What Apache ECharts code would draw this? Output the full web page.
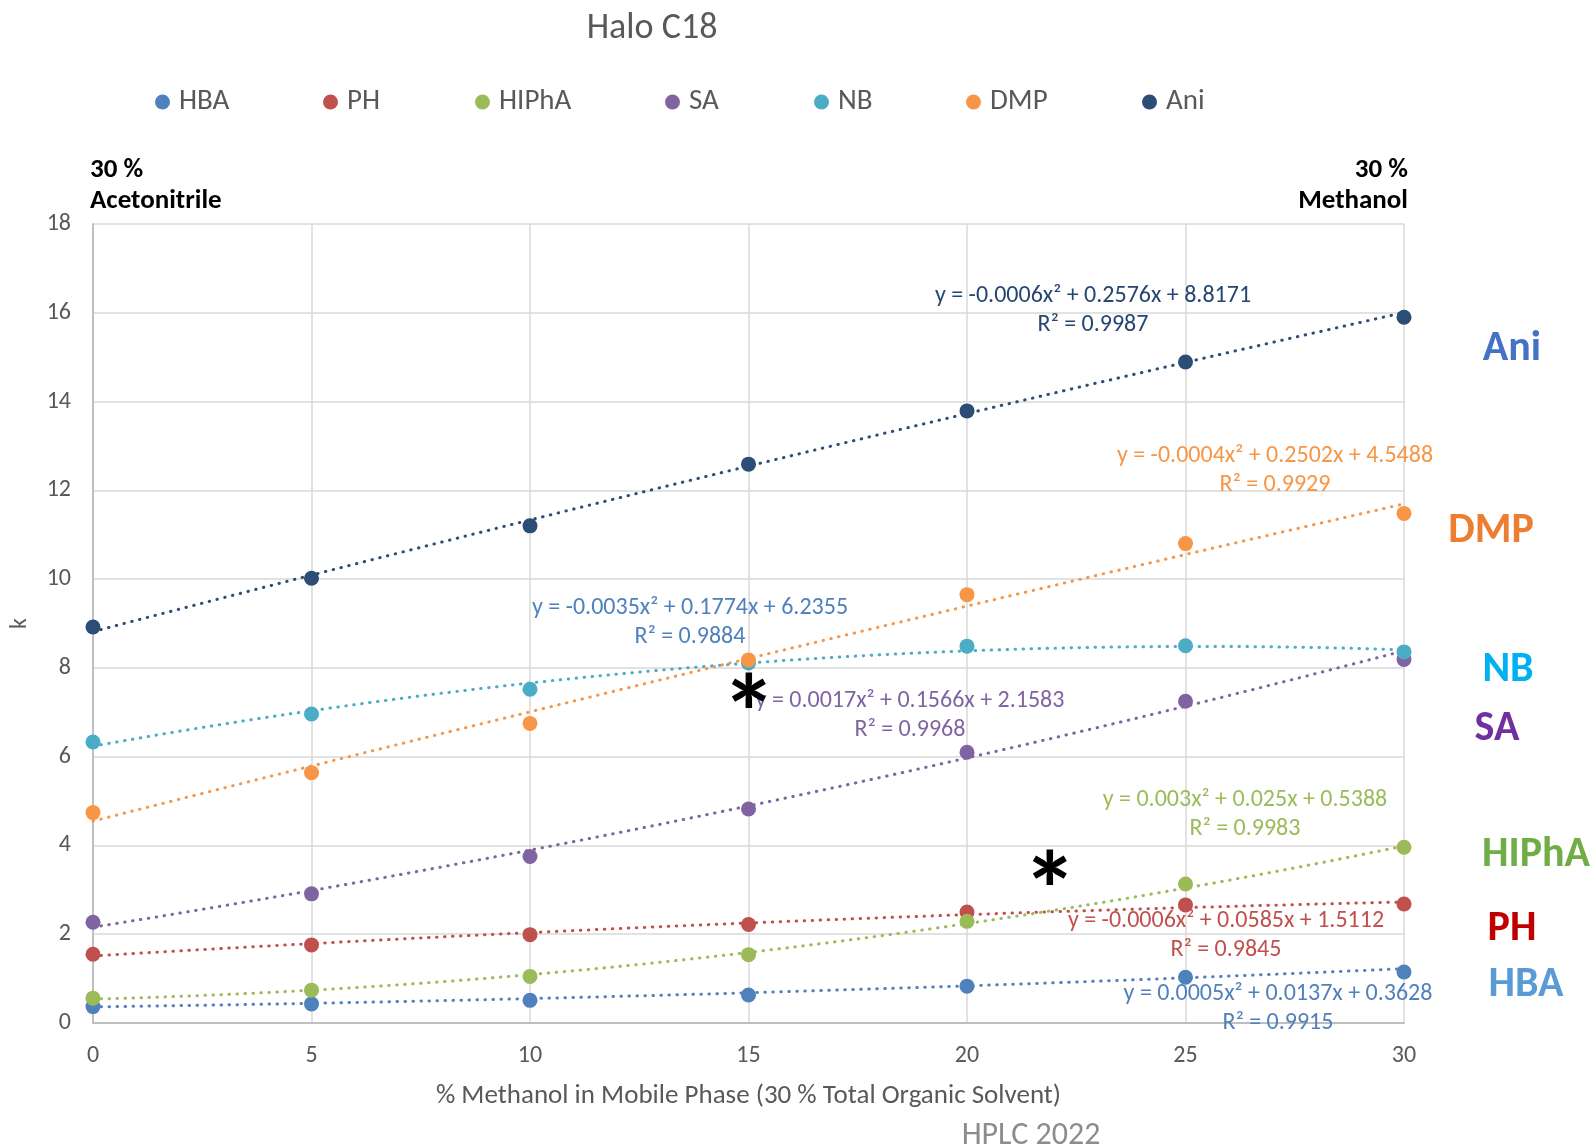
<!DOCTYPE html>
<html>
<head>
<meta charset="utf-8">
<title>Halo C18</title>
<script src="https://cdn.jsdelivr.net/npm/echarts@6/dist/echarts.min.js"></script>
<style>
  html, body { margin: 0; padding: 0; background: #ffffff; }
  #chart { width: 1595px; height: 1146px; }
</style>
</head>
<body>
<div id="chart"></div>
<script>
// % methanol in the 30 % organic mobile phase
const methanolPct = [0, 5, 10, 15, 20, 25, 30];
const yTicks = [0, 2, 4, 6, 8, 10, 12, 14, 16, 18];

// retention factor k per analyte
const kHBA   = [0.37, 0.43, 0.51, 0.63, 0.83, 1.03, 1.15];
const kPH    = [1.55, 1.76, 1.99, 2.22, 2.50, 2.66, 2.68];
const kHIPhA = [0.56, 0.74, 1.05, 1.54, 2.29, 3.13, 3.96];
const kSA    = [2.27, 2.91, 3.75, 4.82, 6.10, 7.25, 8.19];
const kNB    = [6.33, 6.96, 7.52, 8.11, 8.49, 8.50, 8.36];
const kDMP   = [4.74, 5.64, 6.75, 8.18, 9.65, 10.80, 11.48];
const kAni   = [8.92, 10.02, 11.20, 12.59, 13.79, 14.89, 15.90];

// second-order trendline coefficients [a, b, c] for y = a·x² + b·x + c, and R²
const fitHBA   = [0.0005, 0.0137, 0.3628];   const r2HBA   = 0.9915;
const fitPH    = [-0.0006, 0.0585, 1.5112];  const r2PH    = 0.9845;
const fitHIPhA = [0.003, 0.025, 0.5388];     const r2HIPhA = 0.9983;
const fitSA    = [0.0017, 0.1566, 2.1583];   const r2SA    = 0.9968;
const fitNB    = [-0.0035, 0.1774, 6.2355];  const r2NB    = 0.9884;
const fitDMP   = [-0.0004, 0.2502, 4.5488];  const r2DMP   = 0.9929;
const fitAni   = [-0.0006, 0.2576, 8.8171];  const r2Ani   = 0.9987;

const FONT = 'Carlito, Lato, "Open Sans", sans-serif';

const analytes = [
  { name: 'HBA',   k: kHBA,   fit: fitHBA,   r2: r2HBA,   color: '#4f81bd', eqColor: '#4f81bd', tagColor: '#5b9bd5', eq: [1278, 994],  tag: [1526, 985],  legendX: 155 },
  { name: 'PH',    k: kPH,    fit: fitPH,    r2: r2PH,    color: '#c0504d', eqColor: '#c0504d', tagColor: '#c00000', eq: [1226, 921],  tag: [1512, 929],  legendX: 323 },
  { name: 'HIPhA', k: kHIPhA, fit: fitHIPhA, r2: r2HIPhA, color: '#9bbb59', eqColor: '#9bbb59', tagColor: '#70ad47', eq: [1245, 800],  tag: [1536, 855],  legendX: 475 },
  { name: 'SA',    k: kSA,    fit: fitSA,    r2: r2SA,    color: '#8064a2', eqColor: '#8064a2', tagColor: '#7030a0', eq: [910, 701],   tag: [1497, 729],  legendX: 665 },
  { name: 'NB',    k: kNB,    fit: fitNB,    r2: r2NB,    color: '#4bacc6', eqColor: '#4f81bd', tagColor: '#00b0f0', eq: [690, 608],   tag: [1508, 670],  legendX: 814 },
  { name: 'DMP',   k: kDMP,   fit: fitDMP,   r2: r2DMP,   color: '#f79646', eqColor: '#f79646', tagColor: '#ed7d31', eq: [1275, 456],  tag: [1491, 531],  legendX: 966 },
  { name: 'Ani',   k: kAni,   fit: fitAni,   r2: r2Ani,   color: '#2c4d75', eqColor: '#254573', tagColor: '#4472c4', eq: [1093, 296],  tag: [1512, 349],  legendX: 1142 }
];

// trendline curve sampled along the axis from the printed coefficients
function trendPoints(fit) {
  const pts = [];
  for (let x = methanolPct[0]; x <= methanolPct[methanolPct.length - 1] + 1e-9; x += 0.5) {
    pts.push([x, fit[0] * x * x + fit[1] * x + fit[2]]);
  }
  return pts;
}

function equationText(fit) {
  return 'y = ' + fit[0] + 'x\u00B2 + ' + fit[1] + 'x + ' + fit[2];
}

const series = [];
analytes.forEach(function (a) {
  series.push({
    name: a.name + ' trend',
    type: 'line',
    data: trendPoints(a.fit),
    showSymbol: false,
    silent: true,
    z: 2,
    lineStyle: { color: a.color, width: 3, type: [0.5, 7.5], cap: 'round' },
    itemStyle: { color: a.color }
  });
});
analytes.forEach(function (a) {
  series.push({
    name: a.name,
    type: 'scatter',
    data: methanolPct.map(function (x, i) { return [x, a.k[i]]; }),
    symbol: 'circle',
    symbolSize: 15,
    z: 3,
    itemStyle: { color: a.color, opacity: 1 }
  });
});

const legends = analytes.map(function (a) {
  return {
    data: [a.name],
    left: a.legendX,
    top: 87,
    padding: 0,
    itemGap: 0,
    icon: 'circle',
    itemWidth: 15,
    itemHeight: 15,
    selectedMode: false,
    textStyle: { fontFamily: FONT, fontSize: 29, lineHeight: 30, color: '#595959', padding: [0, 0, 0, 4] }
  };
});

const graphics = [];
function addText(x, y, text, opts) {
  graphics.push({
    type: 'text',
    x: x,
    y: y,
    silent: true,
    z: 100,
    style: Object.assign({
      text: text,
      fontFamily: FONT,
      textAlign: 'center',
      textVerticalAlign: 'middle'
    }, opts)
  });
}

addText(652, 29, 'Halo C18', { fontSize: 36, fill: '#595959' });
addText(90, 170, '30 %', { fontSize: 27, fontWeight: 'bold', fill: '#000000', textAlign: 'left' });
addText(90, 201, 'Acetonitrile', { fontSize: 27, fontWeight: 'bold', fill: '#000000', textAlign: 'left' });
addText(1408, 170, '30 %', { fontSize: 27, fontWeight: 'bold', fill: '#000000', textAlign: 'right' });
addText(1408, 201, 'Methanol', { fontSize: 27, fontWeight: 'bold', fill: '#000000', textAlign: 'right' });
addText(1031, 1136, 'HPLC 2022', { fontSize: 32, fill: '#8c8c8c' });

analytes.forEach(function (a) {
  addText(a.eq[0], a.eq[1], equationText(a.fit), { fontSize: 24, fill: a.eqColor });
  addText(a.eq[0], a.eq[1] + 29, 'R\u00B2 = ' + a.r2, { fontSize: 24, fill: a.eqColor });
  addText(a.tag[0], a.tag[1], a.name, { fontSize: 42, fontWeight: 'bold', fill: a.tagColor });
});

// asterisks marking the crossover regions
addText(749, 723, '*', { fontSize: 110, fontWeight: 'bold', fill: '#000000' });
addText(1050, 900, '*', { fontSize: 110, fontWeight: 'bold', fill: '#000000' });

const chart = echarts.init(document.getElementById('chart'), null, { renderer: 'canvas' });
chart.setOption({
  backgroundColor: '#ffffff',
  animation: false,
  textStyle: { fontFamily: FONT },
  legend: legends,
  grid: { left: 93, right: 191, top: 224, bottom: 123, containLabel: false, outerBoundsMode: 'none' },
  xAxis: {
    type: 'value',
    min: methanolPct[0],
    max: methanolPct[methanolPct.length - 1],
    interval: 5,
    name: '% Methanol in Mobile Phase (30 % Total Organic Solvent)',
    nameLocation: 'middle',
    nameGap: 60,
    nameTextStyle: { fontFamily: FONT, fontSize: 27, color: '#595959' },
    axisLine: { show: true, lineStyle: { color: '#bfbfbf', width: 2 } },
    axisTick: { show: false },
    axisLabel: { fontFamily: FONT, fontSize: 24, color: '#595959', margin: 21 },
    splitLine: { show: true, lineStyle: { color: '#d9d9d9', width: 1.5 } }
  },
  yAxis: {
    type: 'value',
    min: yTicks[0],
    max: yTicks[yTicks.length - 1],
    interval: 2,
    name: 'k',
    nameLocation: 'middle',
    nameGap: 61,
    nameTextStyle: { fontFamily: FONT, fontSize: 24, color: '#595959' },
    axisLine: { show: true, lineStyle: { color: '#bfbfbf', width: 2 } },
    axisTick: { show: false },
    axisLabel: { fontFamily: FONT, fontSize: 24, color: '#595959', margin: 22 },
    splitLine: { show: true, lineStyle: { color: '#d9d9d9', width: 1.5 } }
  },
  series: series,
  graphic: graphics
});
</script>
</body>
</html>
